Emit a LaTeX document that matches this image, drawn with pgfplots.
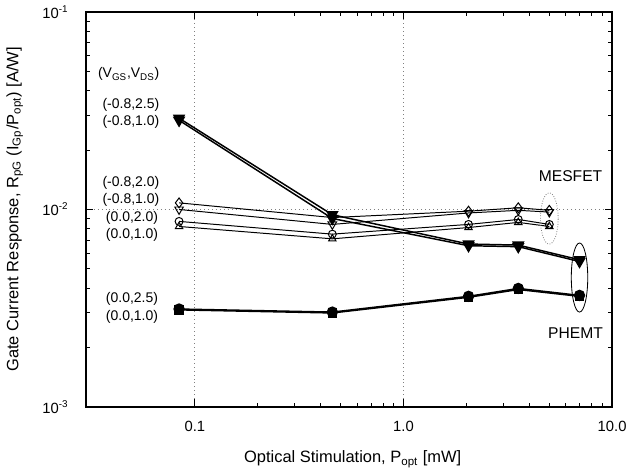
\documentclass[border=0pt]{standalone}
\usepackage{fontspec}
\setmainfont{Liberation Sans}
\usepackage{pgfplots}
\pgfplotsset{compat=1.18}

% PHEMT, filled markers
\def\lw{0.9pt}

\begin{document}
\begin{tikzpicture}
\begin{axis}[
    scale only axis,
    width=320pt, height=240pt,
    xmode=log, ymode=log,
    xmin=0.03, xmax=10,
    ymin=0.001, ymax=0.1,
    xtick={0.1,1,10},
    xticklabels={0.1,1.0,10.0},
    ytick={0.001,0.01,0.1},
    yticklabels={10\textsuperscript{-3},10\textsuperscript{-2},10\textsuperscript{-1}},
    tick align=inside,
    major tick length=4.5pt,
    minor tick length=2.5pt,
    every tick/.style={black, line width=0.6pt},
    axis line style={line width=0.9pt},
    grid=major,
    major grid style={dotted, gray, line width=0.5pt},
    tick label style={font=\fontsize{9}{10}\selectfont},
    xticklabel style={yshift=-5pt},
    yticklabel style={xshift=-7pt},
    /pgf/number format/assume math mode=true,
    xlabel={Optical Stimulation, P\textsubscript{opt} [mW]},
    ylabel={Gate Current Response, R\textsubscript{pG} (I\textsubscript{Gp}/P\textsubscript{opt}) [A/W]},
    label style={font=\fontsize{10}{12}\selectfont},
    xlabel style={at={(rel axis cs:0.507,-0.1325)}, anchor=center},
    ylabel style={at={(rel axis cs:-0.135,0.5)}, anchor=center, rotate=0},
    clip=false,
]
% invisible frame giving the page the reference's proportions
\path (rel axis cs:-0.163,-0.1725) rectangle (rel axis cs:1.0225,1.03);

% PHEMT (0.0,2.5) and (0.0,1.0)
\addplot[black, line width=\lw, mark=*, mark size=3pt] coordinates {
(0.084,0.00313) (0.456,0.00302) (2.05,0.00363) (3.55,0.00398) (6.98,0.00367)};
\addplot[black, line width=\lw, mark=square*, mark size=2.4pt] coordinates {
(0.084,0.00310) (0.456,0.00299) (2.05,0.00359) (3.55,0.00393) (6.98,0.00363)};
% PHEMT (-0.8,2.5) and (-0.8,1.0)
\addplot[black, line width=\lw, mark=triangle*, mark options={rotate=180}, mark size=3.5pt] coordinates {
(0.084,0.0290) (0.456,0.0094) (2.05,0.00668) (3.55,0.00660) (6.98,0.00556)};
\addplot[black, line width=\lw, mark=triangle*, mark options={rotate=180}, mark size=3.5pt] coordinates {
(0.084,0.0283) (0.456,0.0090) (2.05,0.00655) (3.55,0.00648) (6.98,0.00545)};

% MESFET, open markers
\addplot[black, line width=0.6pt, mark=diamond, mark size=3pt, mark options={fill=white}] coordinates {
(0.084,0.0108) (0.456,0.0091) (2.05,0.0098) (3.55,0.0102) (5.0,0.0099)};
\addplot[black, line width=0.6pt, mark=triangle, mark options={rotate=180, fill=white}, mark size=3pt] coordinates {
(0.084,0.0100) (0.456,0.0084) (2.05,0.0096) (3.55,0.0099) (5.0,0.0097)};
\addplot[black, line width=0.6pt, mark=o, mark size=2.4pt, mark options={fill=white}] coordinates {
(0.084,0.0087) (0.456,0.0075) (2.05,0.0084) (3.55,0.0089) (5.0,0.0084)};
\addplot[black, line width=0.6pt, mark=triangle, mark size=2.6pt, mark options={fill=white}] coordinates {
(0.084,0.0082) (0.456,0.0071) (2.05,0.0081) (3.55,0.0086) (5.0,0.0082)};

% labels
\begin{scope}[font=\fontsize{8.5}{10}\selectfont]
\node[anchor=east] at (axis cs:0.072,0.0484) {(V\textsubscript{GS},V\textsubscript{DS})};
\node[anchor=east] at (axis cs:0.072,0.0339) {(-0.8,2.5)};
\node[anchor=east] at (axis cs:0.072,0.0279) {(-0.8,1.0)};
\node[anchor=east] at (axis cs:0.072,0.01365) {(-0.8,2.0)};
\node[anchor=east] at (axis cs:0.072,0.0112) {(-0.8,1.0)};
\node[anchor=east] at (axis cs:0.071,0.00902) {(0.0,2.0)};
\node[anchor=east] at (axis cs:0.071,0.00741) {(0.0,1.0)};
\node[anchor=east] at (axis cs:0.071,0.00351) {(0.0,2.5)};
\node[anchor=east] at (axis cs:0.071,0.00285) {(0.0,1.0)};
\end{scope}
\node[font=\fontsize{9.5}{11}\selectfont] at (axis cs:6.32,0.0148) {MESFET};
\node[font=\fontsize{9.5}{11}\selectfont] at (axis cs:6.68,0.00237) {PHEMT};

% group ellipses
\draw[densely dotted, gray, line width=0.5pt] (axis cs:5.0,0.0090) ellipse [x radius=5.4pt, y radius=15.6pt];
\draw[black, line width=0.5pt] (axis cs:6.98,0.00452) ellipse [x radius=5pt, y radius=21pt];
\end{axis}
\end{tikzpicture}
\end{document}
